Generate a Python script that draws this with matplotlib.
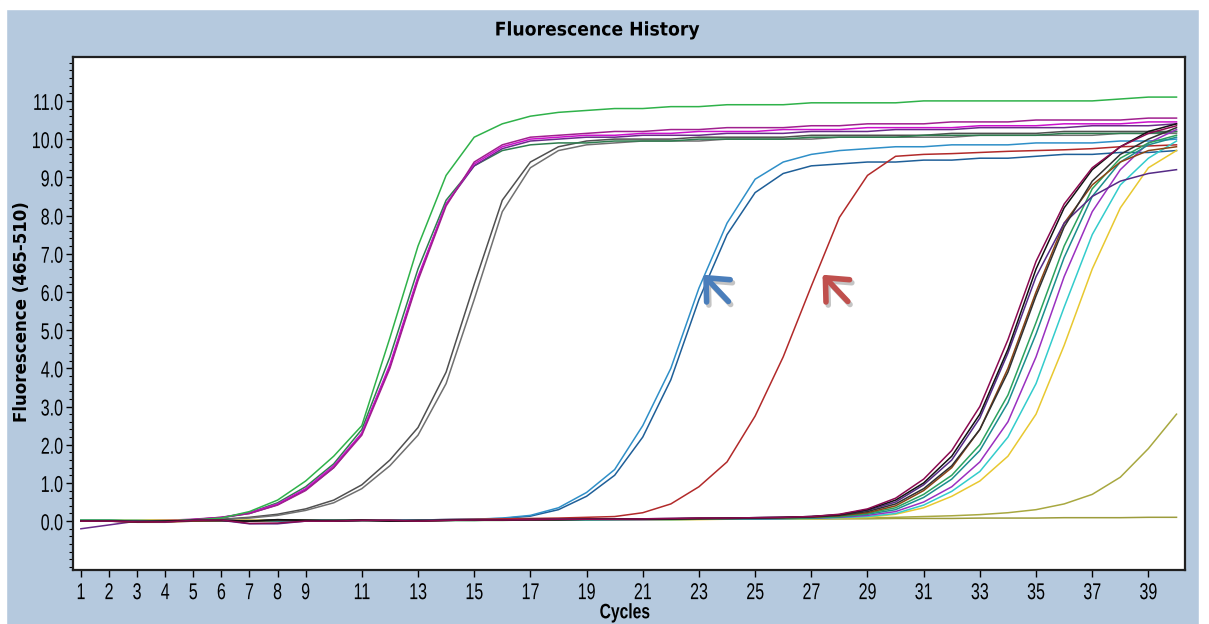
import matplotlib
matplotlib.use('Agg')
import matplotlib.pyplot as plt
from matplotlib.patches import Rectangle
from matplotlib.ticker import MultipleLocator
from matplotlib import patheffects
from matplotlib.transforms import Affine2D

cycles = list(range(1, 41))

# early group
green_a = [0.02, 0.02, 0.0, 0.0, 0.03, 0.08, 0.25, 0.55, 1.05, 1.7, 2.5, 4.8, 7.2, 9.05, 10.05, 10.4, 10.6, 10.7, 10.75, 10.8,
           10.8, 10.85, 10.85, 10.9, 10.9, 10.9, 10.95, 10.95, 10.95, 10.95, 11.0, 11.0, 11.0, 11.0, 11.0, 11.0, 11.0, 11.05, 11.1, 11.1]
magenta_a1 = [0.0, 0.0, -0.02, 0.0, 0.04, 0.1, 0.22, 0.45, 0.85, 1.45, 2.3, 4.1, 6.4, 8.3, 9.35, 9.8, 10.0, 10.05, 10.1, 10.1,
              10.15, 10.15, 10.2, 10.2, 10.2, 10.25, 10.25, 10.25, 10.3, 10.3, 10.3, 10.3, 10.35, 10.35, 10.35, 10.4, 10.4, 10.4, 10.45, 10.45]
magenta_a2 = [0.0, 0.0, 0.0, 0.02, 0.05, 0.1, 0.2, 0.42, 0.8, 1.4, 2.25, 4.0, 6.3, 8.25, 9.4, 9.85, 10.05, 10.1, 10.15, 10.2,
              10.2, 10.25, 10.25, 10.3, 10.3, 10.3, 10.35, 10.35, 10.4, 10.4, 10.4, 10.45, 10.45, 10.45, 10.5, 10.5, 10.5, 10.5, 10.55, 10.55]
purple_a = [-0.2, -0.1, 0.0, 0.0, 0.04, 0.09, 0.2, 0.43, 0.82, 1.4, 2.3, 4.05, 6.35, 8.3, 9.3, 9.75, 9.95, 10.0, 10.05, 10.05,
            10.1, 10.1, 10.1, 10.15, 10.15, 10.15, 10.2, 10.2, 10.2, 10.25, 10.25, 10.25, 10.3, 10.3, 10.3, 10.3, 10.35, 10.35, 10.35, 10.4]
darkgreen_a = [0.0, 0.0, 0.0, 0.0, 0.03, 0.09, 0.22, 0.48, 0.9, 1.5, 2.4, 4.3, 6.6, 8.4, 9.3, 9.7, 9.85, 9.9, 9.9, 9.95,
               9.95, 9.95, 10.0, 10.0, 10.0, 10.0, 10.05, 10.05, 10.05, 10.05, 10.1, 10.1, 10.1, 10.1, 10.1, 10.15, 10.15, 10.15, 10.15, 10.2]
gray_b1 = [0.0, 0.0, 0.0, 0.0, 0.02, 0.05, 0.1, 0.18, 0.32, 0.55, 0.95, 1.6, 2.45, 3.9, 6.2, 8.4, 9.4, 9.8, 9.95, 10.0,
           10.0, 10.0, 10.05, 10.05, 10.05, 10.05, 10.1, 10.1, 10.1, 10.1, 10.1, 10.15, 10.15, 10.15, 10.15, 10.2, 10.2, 10.2, 10.2, 10.2]
gray_b2 = [0.0, 0.0, 0.0, 0.0, 0.02, 0.04, 0.08, 0.15, 0.28, 0.48, 0.85, 1.45, 2.25, 3.6, 5.8, 8.1, 9.25, 9.7, 9.85, 9.9,
           9.95, 9.95, 9.95, 10.0, 10.0, 10.0, 10.0, 10.05, 10.05, 10.05, 10.05, 10.05, 10.1, 10.1, 10.1, 10.1, 10.1, 10.15, 10.15, 10.15]

# mid group (arrows)
blue_c1 = [0.0, 0.0, 0.0, 0.0, 0.0, 0.0, 0.0, 0.02, 0.02, 0.02, 0.02, 0.03, 0.03, 0.04, 0.05, 0.08, 0.15, 0.35, 0.75, 1.35,
           2.5, 4.0, 6.1, 7.8, 8.95, 9.4, 9.6, 9.7, 9.75, 9.8, 9.8, 9.85, 9.85, 9.85, 9.9, 9.9, 9.9, 9.95, 9.95, 10.0]
blue_c2 = [0.0, 0.0, 0.0, 0.0, 0.0, 0.0, 0.0, 0.02, 0.02, 0.02, 0.02, 0.03, 0.03, 0.04, 0.05, 0.07, 0.13, 0.3, 0.65, 1.2,
           2.2, 3.7, 5.8, 7.5, 8.6, 9.1, 9.3, 9.35, 9.4, 9.4, 9.45, 9.45, 9.5, 9.5, 9.55, 9.6, 9.6, 9.65, 9.65, 9.7]
red_d = [0.0, 0.0, 0.0, 0.0, 0.0, 0.0, 0.0, 0.0, 0.02, 0.02, 0.02, 0.03, 0.03, 0.04, 0.05, 0.06, 0.07, 0.08, 0.1, 0.12,
         0.22, 0.45, 0.9, 1.55, 2.75, 4.3, 6.15, 7.95, 9.05, 9.55, 9.6, 9.62, 9.65, 9.68, 9.7, 9.72, 9.75, 9.8, 9.82, 9.85]

# late group
late_magenta = [0.0, 0.0, -0.02, -0.02, 0.02, 0.03, -0.06, -0.05, 0.0, 0.0, 0.02, 0.02, 0.0, 0.02, 0.03, 0.03, 0.04, 0.05, 0.05, 0.05,
                0.06, 0.07, 0.08, 0.08, 0.09, 0.1, 0.12, 0.18, 0.32, 0.6, 1.1, 1.85, 3.0, 4.75, 6.8, 8.3, 9.25, 9.8, 10.15, 10.35]
late_black1 = [0.0, 0.0, -0.02, 0.0, 0.02, 0.02, 0.0, 0.04, 0.02, 0.0, 0.02, 0.0, 0.0, 0.02, 0.03, 0.03, 0.04, 0.04, 0.05, 0.05,
               0.06, 0.06, 0.07, 0.08, 0.09, 0.1, 0.12, 0.17, 0.3, 0.55, 1.0, 1.7, 2.8, 4.5, 6.6, 8.2, 9.2, 9.8, 10.2, 10.4]
late_black2 = [0.0, 0.0, 0.0, 0.0, 0.02, 0.02, 0.0, 0.03, 0.02, 0.02, 0.03, 0.0, 0.02, 0.02, 0.03, 0.03, 0.04, 0.04, 0.05, 0.05,
               0.05, 0.06, 0.07, 0.07, 0.08, 0.09, 0.11, 0.15, 0.25, 0.45, 0.85, 1.45, 2.4, 3.9, 5.9, 7.7, 8.9, 9.6, 10.0, 10.3]
late_purple = [0.0, 0.0, 0.0, -0.02, 0.02, 0.02, -0.07, -0.07, 0.0, 0.0, 0.02, 0.02, 0.02, 0.03, 0.03, 0.03, 0.04, 0.05, 0.05, 0.06,
               0.06, 0.07, 0.08, 0.08, 0.09, 0.1, 0.12, 0.16, 0.28, 0.5, 0.95, 1.6, 2.7, 4.4, 6.4, 7.8, 8.5, 8.9, 9.1, 9.2]
late_brown = [0.0, 0.0, -0.03, -0.03, 0.0, 0.02, 0.0, 0.02, 0.02, 0.0, 0.02, 0.02, 0.0, 0.02, 0.03, 0.03, 0.03, 0.04, 0.05, 0.05,
              0.05, 0.06, 0.06, 0.07, 0.08, 0.09, 0.1, 0.14, 0.22, 0.4, 0.8, 1.4, 2.4, 4.0, 6.0, 7.8, 8.8, 9.4, 9.7, 9.8]
late_green = [0.02, 0.02, 0.0, 0.0, 0.02, 0.02, 0.0, 0.02, 0.02, 0.02, 0.02, 0.02, 0.02, 0.02, 0.02, 0.03, 0.03, 0.04, 0.04, 0.05,
              0.05, 0.05, 0.06, 0.06, 0.07, 0.08, 0.09, 0.12, 0.2, 0.35, 0.7, 1.2, 2.0, 3.3, 5.2, 7.2, 8.7, 9.5, 9.9, 10.1]
late_teal = [0.02, 0.02, 0.0, 0.0, 0.02, 0.02, 0.0, 0.0, 0.02, 0.02, 0.02, 0.02, 0.02, 0.02, 0.02, 0.03, 0.03, 0.03, 0.04, 0.04,
             0.05, 0.05, 0.05, 0.06, 0.06, 0.07, 0.08, 0.11, 0.18, 0.3, 0.62, 1.1, 1.85, 3.1, 4.9, 6.9, 8.5, 9.4, 9.85, 10.05]
late_violet = [0.0, 0.0, 0.0, 0.0, 0.02, 0.03, 0.0, 0.0, 0.02, 0.02, 0.02, 0.02, 0.02, 0.02, 0.03, 0.03, 0.03, 0.03, 0.04, 0.04,
               0.04, 0.05, 0.05, 0.05, 0.06, 0.07, 0.08, 0.1, 0.15, 0.25, 0.5, 0.9, 1.55, 2.6, 4.3, 6.4, 8.1, 9.2, 9.9, 10.25]
late_cyan = [0.02, 0.02, 0.02, 0.0, 0.02, 0.02, 0.0, 0.0, 0.0, 0.0, 0.02, 0.02, 0.02, 0.02, 0.02, 0.02, 0.03, 0.03, 0.03, 0.04,
             0.04, 0.04, 0.05, 0.05, 0.05, 0.06, 0.07, 0.09, 0.12, 0.2, 0.42, 0.78, 1.3, 2.2, 3.6, 5.6, 7.5, 8.8, 9.5, 9.95]
late_yellow = [0.03, 0.03, 0.02, 0.02, 0.02, 0.02, 0.02, 0.0, 0.0, 0.02, 0.02, 0.02, 0.02, 0.02, 0.02, 0.02, 0.03, 0.03, 0.03, 0.03,
               0.04, 0.04, 0.04, 0.05, 0.05, 0.06, 0.06, 0.08, 0.1, 0.18, 0.35, 0.65, 1.05, 1.7, 2.8, 4.6, 6.6, 8.2, 9.25, 9.7]
olive_rise = [0.02, 0.02, 0.02, 0.02, 0.02, 0.02, 0.02, 0.02, 0.02, 0.02, 0.02, 0.02, 0.02, 0.02, 0.02, 0.03, 0.03, 0.03, 0.03, 0.04,
              0.04, 0.04, 0.05, 0.05, 0.05, 0.06, 0.06, 0.07, 0.08, 0.1, 0.12, 0.14, 0.17, 0.22, 0.3, 0.45, 0.7, 1.15, 1.9, 2.8]
olive_flat = [0.02, 0.02, 0.02, 0.02, 0.02, 0.02, 0.02, 0.02, 0.02, 0.02, 0.02, 0.03, 0.03, 0.03, 0.03, 0.03, 0.03, 0.03, 0.04, 0.04,
              0.04, 0.04, 0.05, 0.05, 0.05, 0.05, 0.06, 0.06, 0.06, 0.07, 0.07, 0.07, 0.08, 0.08, 0.08, 0.09, 0.09, 0.09, 0.1, 0.1]

curves = [
    (olive_flat, '#9c9c3c'), (olive_rise, '#a8a840'),
    (gray_b1, '#505050'), (gray_b2, '#707070'),
    (darkgreen_a, '#2e7d4f'), (purple_a, '#6a2a8a'), (magenta_a1, '#cc10cc'), (magenta_a2, '#a0208f'), (green_a, '#2fb24a'),
    (blue_c2, '#1f5f98'), (blue_c1, '#2f8fc8'), (red_d, '#b22a2a'),
    (late_yellow, '#e8c830'), (late_cyan, '#33cccc'), (late_violet, '#9a30c0'), (late_teal, '#1b8e8e'),
    (late_green, '#2ca25f'), (late_brown, '#8b4513'), (late_purple, '#552a86'), (late_black2, '#303030'),
    (late_black1, '#111111'), (late_magenta, '#8b0a50'),
]


class Squeeze(patheffects.AbstractPathEffect):
    # narrow text horizontally, to mimic the condensed font of the instrument software
    def __init__(self, sx, anchor='center'):
        super().__init__()
        self.sx = sx
        self.anchor = anchor

    def draw_path(self, renderer, gc, tpath, affine, rgbFace=None):
        bb = tpath.get_extents(affine)
        x0 = bb.x1 if self.anchor == 'right' else (bb.x0 + bb.x1) / 2
        t = affine + Affine2D().translate(-x0, 0).scale(self.sx, 1).translate(x0, 0)
        renderer.draw_path(gc, tpath, t, rgbFace)


fig = plt.figure(figsize=(12.09, 6.24), dpi=100, facecolor='#b5c9de')
# white frame around the screenshot
for r in [(0, 1 - 9 / 624, 1, 9 / 624), (0, 0, 6 / 1209, 1), (1199 / 1209, 0, 10 / 1209, 1)]:
    fig.patches.append(Rectangle(r[:2], r[2], r[3], transform=fig.transFigure, color='white', zorder=0))

ax = fig.add_axes([0.0604, 0.0865, 0.9197, 0.8222])
ax.set_facecolor('white')
for y, c in curves:
    ax.plot(cycles, y, color=c, lw=1.1)

ax.set_xlim(0.72, 40.3)
ax.set_xticks([1, 2, 3, 4, 5, 6, 7, 8, 9, 11, 13, 15, 17, 19, 21, 23, 25, 27, 29, 31, 33, 35, 37, 39])
ax.set_yticks([0, 1, 2, 3, 4, 5, 6, 7, 8, 9, 10, 11])
ax.set_yticklabels(['%.1f' % v for v in ax.get_yticks()])
ax.yaxis.set_minor_locator(MultipleLocator(0.2))
ax.set_ylim(-1.28, 12.15)
ax.tick_params(axis='both', which='major', length=5, width=1, direction='out', pad=2, labelsize=16.5)
ax.tick_params(axis='x', which='major', pad=3)
ax.tick_params(axis='y', which='minor', length=3, width=0.8)
for lab in ax.get_xticklabels():
    lab.set_family('Liberation Sans')
    lab.set_path_effects([Squeeze(0.7, 'center')])
for lab in ax.get_yticklabels():
    lab.set_family('Liberation Sans')
    lab.set_path_effects([Squeeze(0.7, 'right')])
for s in ax.spines.values():
    s.set_linewidth(1.6)
    s.set_color('#202020')

fig.text(0.494, 0.952, 'Fluorescence History', ha='center', va='center', fontsize=13.5, fontweight='bold',
         path_effects=[Squeeze(0.92)])
fig.text(0.018, 0.5, 'Fluorescence (465-510)', ha='center', va='center', rotation=90, fontsize=12, fontweight='bold')
fig.text(0.517, 0.018, 'Cycles', ha='center', va='center', fontsize=15, fontweight='bold', family='Liberation Sans',
         path_effects=[Squeeze(0.75)])

# arrows pointing at the two middle curves
style = '->, head_length=0.5, head_width=0.45'
for tip, tail, col in [((23.15, 6.45), (24.05, 5.75), '#4a7ebb'), ((27.4, 6.45), (28.3, 5.75), '#c0504d')]:
    ax.annotate('', xy=(tip[0] + 0.08, tip[1] - 0.08), xytext=(tail[0] + 0.08, tail[1] - 0.08),
                arrowprops=dict(arrowstyle=style, lw=4, color='#c4c4c4', mutation_scale=26, shrinkA=0, shrinkB=0))
    ax.annotate('', xy=tip, xytext=tail,
                arrowprops=dict(arrowstyle=style, lw=4, color=col, mutation_scale=26, shrinkA=0, shrinkB=0))

fig.savefig('out.png', dpi=100, facecolor=fig.get_facecolor())
